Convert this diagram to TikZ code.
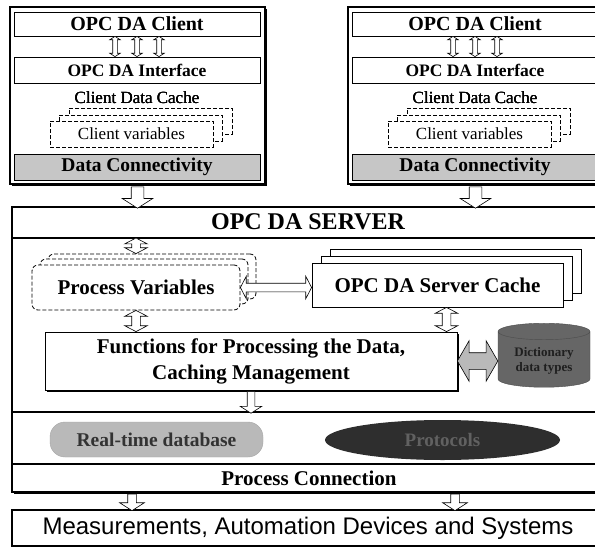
\documentclass[tikz,border=0pt]{standalone}
\usepackage{fontspec}
\setmainfont{Liberation Serif}
\setsansfont{Liberation Sans}
\usetikzlibrary{arrows.meta,calc,shapes.geometric,shapes.arrows,shadows,positioning}

\newcommand{\fsz}[1]{\fontsize{#1}{#1}\selectfont}
% hollow block arrow stretched between two named points
\newcommand{\fatlink}[3][]{%
  \path let \p1=(#2), \p2=(#3), \n1={veclen(\x2-\x1,\y2-\y1)} in
    (#2) -- (#3) node[midway, sloped, draw, fill=white, line width=0.6pt, inner xsep=0pt,
      minimum height=\n1, #1] {};}

\tikzset{
  frame/.style={draw, line width=1.6pt, fill=white,
    drop shadow={shadow xshift=1.5pt, shadow yshift=-1.5pt, opacity=1, fill=black}},
  plainbox/.style={draw, line width=0.8pt, fill=white, inner sep=0pt},
  dashbox/.style={draw, dash pattern=on 4pt off 2pt, line width=0.8pt, fill=white, inner sep=0pt},
  thinarr/.style={double arrow, inner ysep=2pt, double arrow head extend=3pt, double arrow tip angle=115},
  midarr/.style={double arrow, inner ysep=4pt, double arrow head extend=7pt, double arrow tip angle=125},
  bigdown/.style={single arrow, inner ysep=6pt, single arrow head extend=9pt, single arrow tip angle=115},
  middown/.style={single arrow, inner ysep=#1, single arrow head extend=2*#1, single arrow tip angle=115},
}

\begin{document}
\begin{tikzpicture}[x=1pt, y=-1pt]
  \useasboundingbox (0,0) rectangle (595,549);

  % the two clients
  \foreach \s/\dx in {L/0, R/338} {
    \begin{scope}[xshift=\dx pt]
      \node[frame, minimum width=255pt, minimum height=177pt] (frame\s) at (137.5,95.5) {};
      \node[plainbox, minimum width=246pt, minimum height=24pt, font=\fsz{20}\bfseries] (opc\s) at (137,24) {OPC DA Client};
      \node[plainbox, minimum width=246pt, minimum height=26pt, font=\fsz{17.5}\bfseries] (iface\s) at (137,70) {OPC DA Interface};
      \foreach \ax in {-22,0,22}
        \fatlink[thinarr]{[xshift=\ax pt]opc\s.south}{[xshift=\ax pt]iface\s.north}
      \node[font=\fsz{17}] (cache\s) at (137,98) {Client Data Cache};
      \node[dashbox, minimum width=163pt, minimum height=26pt] (varsC\s) at (150.5,121) {};
      \node[dashbox, minimum width=163pt, minimum height=26pt] (varsB\s) at (140.5,128) {};
      \node[dashbox, minimum width=163pt, minimum height=26pt, font=\fsz{17}] (vars\s) at (131.5,134) {Client variables};
      \node[plainbox, fill=gray!45, minimum width=246pt, minimum height=26pt, font=\fsz{19.5}\bfseries] (conn\s) at (137,167) {Data Connectivity};
    \end{scope}
  }

  % server
  \node[frame, minimum width=592pt, minimum height=285pt] (server) at (308,349.5) {};
  \node[font=\fsz{24}\bfseries] (title) at (308,222) {OPC DA SERVER};
  \coordinate (bar1) at (12,238);
  \coordinate (bar2) at (12,412);
  \coordinate (bar3) at (12,464);
  \foreach \b in {bar1,bar2,bar3}
    \draw[line width=1.4pt] (\b) -- (\b -| server.east);

  \fatlink[bigdown]{frameL.south}{frameL.south |- server.north}
  \fatlink[bigdown]{frameR.south}{frameR.south |- server.north}

  % process variables
  \node[dashbox, rounded corners=6pt, minimum width=208pt, minimum height=45pt] (pvC) at (152,276.5) {};
  \node[dashbox, rounded corners=6pt, minimum width=208pt, minimum height=45pt] (pvB) at (144,281.5) {};
  \node[dashbox, rounded corners=6pt, minimum width=208pt, minimum height=45pt, font=\fsz{21}\bfseries] (pv) at (136,287.5) {Process Variables};

  % server cache
  \node[plainbox, minimum width=251pt, minimum height=44pt] (cacheC) at (455.5,271) {};
  \node[plainbox, minimum width=251pt, minimum height=44pt] (cacheB) at (446.5,278) {};
  \node[plainbox, minimum width=251pt, minimum height=44pt, font=\fsz{21}\bfseries] (cache) at (437.5,285) {OPC DA Server Cache};

  % functions
  \node[plainbox, minimum width=412pt, minimum height=58pt, align=center,
    drop shadow={shadow xshift=1.5pt, shadow yshift=-1.5pt, opacity=1, fill=black},
    font=\fontsize{21}{26}\selectfont\bfseries] (fun) at (251,361) {Functions for Processing the Data,\\Caching Management};
  \node[cylinder, shape border rotate=90, aspect=0.25, draw=black!70, fill=black!60,
    minimum width=92pt, minimum height=64pt, align=center, text=black!88,
    font=\fontsize{13}{15}\selectfont\bfseries] (dict) at (544,361) {Dictionary\\data types};
  \fatlink[double arrow, fill=gray!55, inner ysep=8pt, double arrow head extend=12pt,
    double arrow tip angle=120]{fun.east |- dict.west}{dict.west}

  \fatlink[midarr]{pv.north |- bar1}{pv.north |- pvC.north}
  \fatlink[midarr]{pv.south}{pv.south |- fun.north}
  \fatlink[midarr]{[xshift=9pt]cache.south}{[xshift=9pt]cache.south |- fun.north}
  \fatlink[midarr]{pv.east}{pv.east -| cache.west}
  \fatlink[middown=3.5pt]{fun.south}{fun.south |- bar2}

  % real-time layer
  \node[draw=gray!70, fill=gray!55, rounded corners=15pt, minimum width=213pt, minimum height=35pt,
    text=black!80, font=\fsz{19.5}\bfseries] (rtdb) at (156.5,439.5) {Real-time database};
  \node[ellipse, fill=black!82, minimum width=235pt, minimum height=40pt, text=black!62,
    font=\fsz{19}\bfseries] (proto) at (442.5,440) {Protocols};
  \node[font=\fsz{21}\bfseries] (pconn) at (309,478) {Process Connection};

  % devices
  \node[draw, line width=1.5pt, fill=white, minimum width=592pt, minimum height=36pt,
    font=\sffamily\fsz{24}] (meas) at (308,528) {Measurements, Automation Devices and Systems};
  \fatlink[middown=4pt]{[xshift=-176pt]server.south}{[xshift=-176pt]server.south |- meas.north}
  \fatlink[middown=4pt]{[xshift=147pt]server.south}{[xshift=147pt]server.south |- meas.north}
\end{tikzpicture}
\end{document}
